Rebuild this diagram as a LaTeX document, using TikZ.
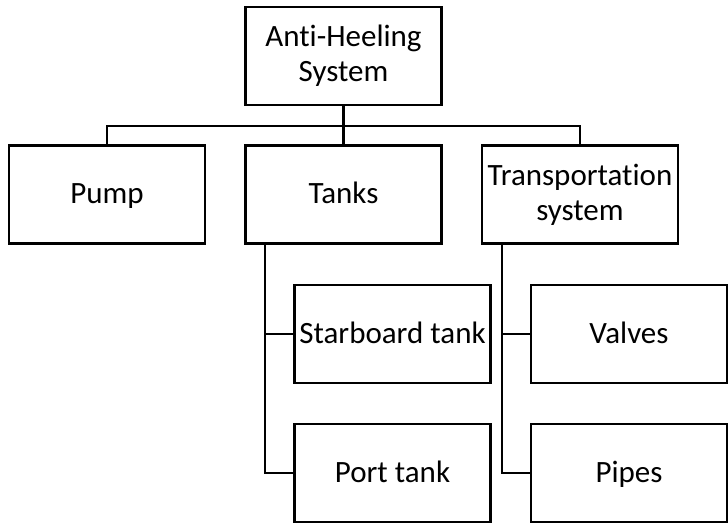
\documentclass[tikz,border=0pt]{standalone}
\usepackage{fontspec}
\setmainfont{Carlito}[Ligatures=NoCommon]
\begin{document}
\begin{tikzpicture}[x=1pt,y=-1pt,
  line width=2.2pt,
  box/.style={draw, rectangle, align=center, inner sep=0pt,
    minimum width=196pt, minimum height=98pt,
    font=\fontsize{31}{35}\selectfont},
  onebox/.style={box, text height=21pt, text depth=3pt},
  link/.style={draw, line join=miter}]
  \useasboundingbox (0,0) rectangle (728,523);
  % hierarchy boxes
  \node[box]    (top)    at (343.5,56)    {Anti-Heeling\\System};
  \node[onebox] (pump)   at (107,194.5)   {Pump};
  \node[onebox] (tanks)  at (343.5,194.5) {Tanks};
  \node[box]    (trans)  at (580,194.5)   {Transportation\\system};
  \node[onebox] (star)   at (392.5,334)   {Starboard tank};
  \node[onebox] (port)   at (392.5,473)   {Port tank};
  \node[onebox] (valves) at (629,334)     {Valves};
  \node[onebox] (pipes)  at (629,473)     {Pipes};
  % junction points of the tree lines
  \coordinate (bar)       at (343.5,126);
  \coordinate (tankstem)  at (265,244);
  \coordinate (transstem) at (502,244);
  % top level links
  \path[link] (top.south) -- (bar);
  \path[link] (pump.north) |- (bar) -| (trans.north);
  \path[link] (bar) -- (tanks.north);
  % sub-component links
  \path[link] (tankstem) |- (star.west);
  \path[link] (tankstem) |- (port.west);
  \path[link] (transstem) |- (valves.west);
  \path[link] (transstem) |- (pipes.west);
\end{tikzpicture}
\end{document}
